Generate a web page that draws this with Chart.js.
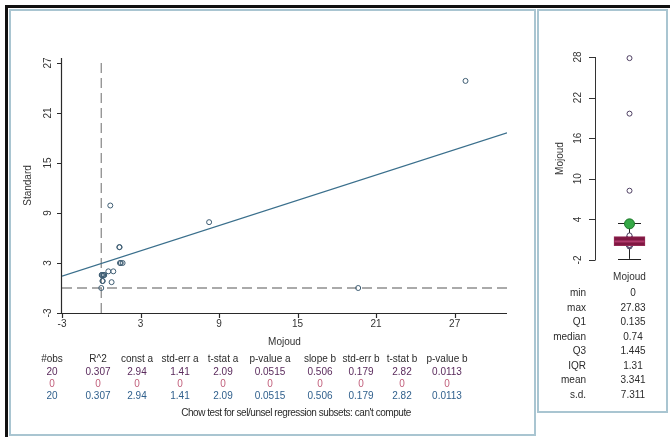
<!DOCTYPE html>
<html>
<head>
<meta charset="utf-8">
<script src="https://cdn.jsdelivr.net/npm/chart.js@4.4.1/dist/chart.umd.min.js"></script>
<style>
  html, body { margin: 0; padding: 0; background: #fff; }
  #page { position: relative; width: 670px; height: 437px; overflow: hidden;
          font-family: "Liberation Sans", Arial, sans-serif; font-size: 10px; color: #333; }
  .abs { position: absolute; }
  canvas { position: absolute; left: 0; top: 0; }
  .t { position: absolute; white-space: nowrap; transform: translate(-50%, -50%); line-height: 1; }
  .tr { position: absolute; white-space: nowrap; transform: translate(-100%, -50%); line-height: 1; }
</style>
</head>
<body>
<div id="page">
  <div class="abs" style="left:5px;top:5px;width:665px;height:3px;background:#111"></div>
  <div class="abs" style="left:5px;top:5px;width:3px;height:432px;background:#111"></div>
  <div class="abs" style="left:9px;top:9px;width:527px;height:427px;border:2px solid #a9c5d1;box-sizing:border-box"></div>
  <div class="abs" style="left:537px;top:9px;width:131px;height:404px;border:2px solid #a9c5d1;box-sizing:border-box"></div>
  <canvas id="scatter" width="670" height="437"></canvas>
  <canvas id="box" width="670" height="437"></canvas>
</div>
<script>
// Observations: Mojoud (x) against Standard (y)
const mojoud   = [0, 0.03, 0.05, 0.09, 0.11, 0.143, 0.2, 0.23, 0.54, 0.69, 0.79, 0.92, 1.38, 1.40, 1.43, 1.49, 1.63, 8.24, 19.63, 27.83];
const standard = [0, 1.56, 1.56, 0.84, 0.84, 1.56, 1.56, 1.56, 2.0, 9.9, 0.7, 2.0, 4.9, 4.9, 3.0, 3.0, 3.0, 7.9, 0, 24.85];

// Axis ticks
const xTicks   = [-3, 3, 9, 15, 21, 27];
const yTicks   = [-3, 3, 9, 15, 21, 27];
const boxTicks = [-2, 4, 10, 16, 22, 28];

// Regression summary (all / selected / unselected)
const regHeaders = ['#obs', 'R^2', 'const a', 'std-err a', 't-stat a', 'p-value a', 'slope b', 'std-err b', 't-stat b', 'p-value b'];
const regAll     = ['20', '0.307', '2.94', '1.41', '2.09', '0.0515', '0.506', '0.179', '2.82', '0.0113'];
const regSel     = ['0', '0', '0', '0', '0', '0', '0', '0', '0', '0'];
const regUnsel   = ['20', '0.307', '2.94', '1.41', '2.09', '0.0515', '0.506', '0.179', '2.82', '0.0113'];

// Box plot summary for Mojoud
const statNames  = ['min', 'max', 'Q1', 'median', 'Q3', 'IQR', 'mean', 's.d.'];
const statValues = ['0', '27.83', '0.135', '0.74', '1.445', '1.31', '3.341', '7.311'];

const FONT = '10px "Liberation Sans", Arial, sans-serif';
const page = document.getElementById('page');

function addText(txt, cx, cy, color, cls, extra) {
  const d = document.createElement('div');
  d.className = cls || 't';
  d.textContent = txt;
  d.style.left = cx + 'px';
  d.style.top = cy + 'px';
  d.style.color = color || '#333';
  if (extra) Object.assign(d.style, extra);
  page.appendChild(d);
}

// ---------- scatter with fitted line ----------
const constA = parseFloat(regAll[2]);
const slopeB = parseFloat(regAll[6]);
const xMin = -3, xMax = 31, yMin = -3, yMax = 27.6;

const scatterAxes = {
  id: 'scatterAxes',
  afterDraw(chart) {
    const { ctx, chartArea: a, scales: { x, y } } = chart;
    ctx.save();
    ctx.strokeStyle = '#2a2a2a';
    ctx.lineWidth = 1.2;
    ctx.beginPath();
    ctx.moveTo(a.left, a.bottom + 0.5); ctx.lineTo(a.right, a.bottom + 0.5);
    ctx.moveTo(a.left - 0.5, a.top); ctx.lineTo(a.left - 0.5, a.bottom + 1);
    xTicks.forEach(v => {
      const px = Math.round(x.getPixelForValue(v)) + 0.5;
      ctx.moveTo(px, a.bottom); ctx.lineTo(px, a.bottom + 5);
    });
    yTicks.forEach(v => {
      const py = Math.round(y.getPixelForValue(v)) + 0.5;
      ctx.moveTo(a.left, py); ctx.lineTo(a.left - 5, py);
    });
    ctx.stroke();
    ctx.fillStyle = '#333';
    ctx.font = FONT;
    ctx.textAlign = 'center';
    ctx.textBaseline = 'middle';
    xTicks.forEach(v => ctx.fillText(String(v), x.getPixelForValue(v), a.bottom + 11));
    yTicks.forEach(v => {
      ctx.save();
      ctx.translate(a.left - 14, y.getPixelForValue(v));
      ctx.rotate(-Math.PI / 2);
      ctx.fillText(String(v), 0, 0);
      ctx.restore();
    });
    ctx.fillText('Mojoud', (a.left + a.right) / 2, a.bottom + 29);
    ctx.save();
    ctx.translate(a.left - 34, (a.top + a.bottom) / 2);
    ctx.rotate(-Math.PI / 2);
    ctx.fillText('Standard', 0, 0);
    ctx.restore();
    ctx.restore();
  }
};

new Chart(document.getElementById('scatter'), {
  type: 'scatter',
  data: {
    datasets: [
      {
        label: 'Standard',
        data: mojoud.map((v, i) => ({ x: v, y: standard[i] })),
        pointRadius: 2.5,
        pointBorderWidth: 1,
        borderColor: '#3d5c72',
        backgroundColor: 'rgba(255,255,255,0)',
        clip: false,
        order: 0
      },
      {
        label: 'fit',
        data: [{ x: xMin, y: constA + slopeB * xMin }, { x: xMax, y: constA + slopeB * xMax }],
        showLine: true,
        pointRadius: 0,
        borderColor: '#3a6f8c',
        borderWidth: 1.2,
        order: 1
      },
      {
        label: 'x0',
        data: [{ x: 0, y: yMin }, { x: 0, y: yMax }],
        showLine: true,
        pointRadius: 0,
        borderColor: '#8e8e8e',
        borderWidth: 1.3,
        borderDash: [10, 5],
        order: 2
      },
      {
        label: 'y0',
        data: [{ x: xMin, y: 0 }, { x: xMax, y: 0 }],
        showLine: true,
        pointRadius: 0,
        borderColor: '#8e8e8e',
        borderWidth: 1.3,
        borderDash: [10, 5],
        order: 2
      }
    ]
  },
  options: {
    responsive: false,
    animation: false,
    events: [],
    layout: { padding: { left: 62, right: 163, top: 58, bottom: 124 } },
    plugins: { legend: { display: false }, tooltip: { enabled: false } },
    scales: {
      x: { type: 'linear', min: xMin, max: xMax, display: false },
      y: { type: 'linear', min: yMin, max: yMax, display: false }
    }
  },
  plugins: [scatterAxes]
});

// ---------- box plot ----------
const q1 = parseFloat(statValues[2]);
const med = parseFloat(statValues[3]);
const q3 = parseFloat(statValues[4]);
const iqr = parseFloat(statValues[5]);
const mean = parseFloat(statValues[6]);
const loFence = q1 - 1.5 * iqr;
const hiFence = q3 + 1.5 * iqr;

const boxParts = {
  id: 'boxParts',
  beforeDatasetsDraw(chart) {
    const { ctx, scales: { x, y } } = chart;
    const cx = x.getPixelForValue(0);
    ctx.save();
    ctx.strokeStyle = '#222';
    ctx.lineWidth = 1;
    ctx.beginPath();
    ctx.moveTo(cx, y.getPixelForValue(q3)); ctx.lineTo(cx, y.getPixelForValue(hiFence));
    ctx.moveTo(cx, y.getPixelForValue(q1)); ctx.lineTo(cx, y.getPixelForValue(loFence));
    const yh = Math.round(y.getPixelForValue(hiFence)) + 0.5;
    const yl = Math.round(y.getPixelForValue(loFence)) + 0.5;
    ctx.moveTo(cx - 11.5, yh); ctx.lineTo(cx + 11.5, yh);
    ctx.moveTo(cx - 11.5, yl); ctx.lineTo(cx + 11.5, yl);
    ctx.stroke();
    ctx.restore();
  },
  afterDatasetsDraw(chart) {
    const { ctx, scales: { x, y } } = chart;
    const cx = x.getPixelForValue(0);
    ctx.save();
    ctx.strokeStyle = '#b03a6c';
    ctx.lineWidth = 2;
    ctx.beginPath();
    const ym = y.getPixelForValue(med);
    ctx.moveTo(cx - 15, ym); ctx.lineTo(cx + 15, ym);
    ctx.stroke();
    ctx.restore();
  },
  afterDraw(chart) {
    const { ctx, chartArea: a, scales: { x, y } } = chart;
    ctx.save();
    ctx.strokeStyle = '#333';
    ctx.lineWidth = 1;
    ctx.beginPath();
    const top = y.getPixelForValue(boxTicks[boxTicks.length - 1]);
    const bot = y.getPixelForValue(boxTicks[0]);
    ctx.moveTo(a.left + 0.5, top); ctx.lineTo(a.left + 0.5, bot);
    boxTicks.forEach(v => {
      const py = Math.round(y.getPixelForValue(v)) + 0.5;
      ctx.moveTo(a.left + 0.5, py); ctx.lineTo(a.left - 6, py);
    });
    ctx.stroke();
    ctx.fillStyle = '#333';
    ctx.font = FONT;
    ctx.textAlign = 'center';
    ctx.textBaseline = 'middle';
    boxTicks.forEach(v => {
      ctx.save();
      ctx.translate(a.left - 17, y.getPixelForValue(v));
      ctx.rotate(-Math.PI / 2);
      ctx.fillText(String(v), 0, 0);
      ctx.restore();
    });
    ctx.save();
    ctx.translate(a.left - 35, (top + bot) / 2);
    ctx.rotate(-Math.PI / 2);
    ctx.fillText('Mojoud', 0, 0);
    ctx.restore();
    ctx.fillText('Mojoud', x.getPixelForValue(0), bot + 17);
    ctx.restore();
  }
};

new Chart(document.getElementById('box'), {
  type: 'bar',
  data: {
    labels: ['Mojoud'],
    datasets: [
      {
        type: 'line',
        label: 'mean',
        data: [{ x: 'Mojoud', y: mean }],
        showLine: false,
        pointRadius: 5,
        pointBorderWidth: 1,
        backgroundColor: '#36a947',
        borderColor: '#1f7a2c',
        clip: false,
        order: 0
      },
      {
        label: 'box',
        data: [[q1, q3]],
        barThickness: 31,
        backgroundColor: '#7f1742',
        borderColor: '#952a55',
        borderWidth: 1,
        borderSkipped: false,
        order: 1
      },
      {
        type: 'line',
        label: 'values',
        data: mojoud.map(v => ({ x: 'Mojoud', y: v })),
        showLine: false,
        pointRadius: 2.5,
        pointBorderWidth: 1,
        backgroundColor: '#fff',
        borderColor: '#4e3f62',
        clip: false,
        order: 2
      }
    ]
  },
  options: {
    responsive: false,
    animation: false,
    events: [],
    layout: { padding: { left: 595, right: 1, top: 57, bottom: 177 } },
    plugins: { legend: { display: false }, tooltip: { enabled: false } },
    scales: {
      x: { display: false },
      y: { min: boxTicks[0], max: boxTicks[boxTicks.length - 1], display: false }
    }
  },
  plugins: [boxParts]
});

// ---------- regression table ----------
const colX = [52, 98, 137, 180, 223, 270, 320, 361, 402, 447];
const rows = [
  { cells: regHeaders, y: 359, color: '#2b2b2b' },
  { cells: regAll, y: 372, color: '#5a2a5c' },
  { cells: regSel, y: 384, color: '#c2607c' },
  { cells: regUnsel, y: 396, color: '#2f5f8c' }
];
rows.forEach(r => r.cells.forEach((c, i) => addText(c, colX[i], r.y, r.color)));
addText("Chow test for sel/unsel regression subsets: can't compute", 296, 413, '#2b2b2b', 't', { letterSpacing: '-0.45px' });

// ---------- box plot statistics ----------
statNames.forEach((n, i) => {
  const yy = 293 + i * 14.5;
  addText(n, 586, yy, '#2b2b2b', 'tr');
  addText(statValues[i], 633, yy, '#2b2b2b', 't');
});
</script>
</body>
</html>
